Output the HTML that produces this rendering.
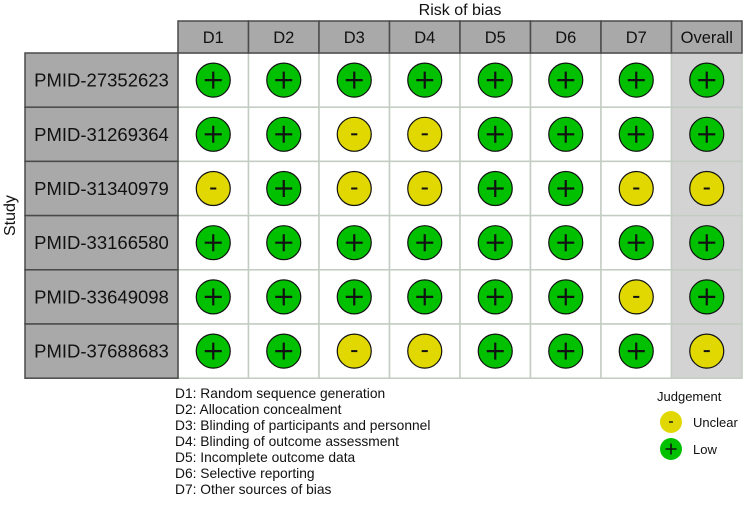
<!DOCTYPE html>
<html><head><meta charset="utf-8"><style>
body{margin:0;background:#fff;font-family:"Liberation Sans",sans-serif}
</style></head><body>
<svg id="c" width="744" height="503" xmlns="http://www.w3.org/2000/svg" font-family="Liberation Sans, sans-serif"></svg>
<script>
const studies=["PMID-27352623","PMID-31269364","PMID-31340979","PMID-33166580","PMID-33649098","PMID-37688683"];
const domains=["D1","D2","D3","D4","D5","D6","D7","Overall"];
const judgements=[
"LLLLLLLL",
"LLUULLLL",
"ULUULLUU",
"LLLLLLLL",
"LLLLLLUL",
"LLUULLLU"];
const legendLines=["D1: Random sequence generation","D2: Allocation concealment","D3: Blinding of participants and personnel","D4: Blinding of outcome assessment","D5: Incomplete outcome data","D6: Selective reporting","D7: Other sources of bias"];
const NS="http://www.w3.org/2000/svg",svg=document.getElementById('c');
function mk(t,a,txt){const e=document.createElementNS(NS,t);for(const k in a)e.setAttribute(k,a[k]);if(txt!==undefined)e.textContent=txt;svg.appendChild(e);return e;}
const x0=178,cw=70.5,y0=53,rh=54.2,hy=21;
const col=i=>x0+i*cw, row=j=>y0+j*rh;
let e;
e=mk('text',{x:col(4),y:15,'text-anchor':'middle','font-size':16,fill:'#111'},'Risk of bias');


e=mk('text',{x:0,y:0,transform:`translate(15,${row(3)}) rotate(-90)`,'text-anchor':'middle','font-size':16,fill:'#111'},'Study');


studies.forEach((s,j)=>{domains.forEach((d,i)=>{
 e=mk('rect',{x:col(i),y:row(j),width:cw,height:rh,fill:i==7?'#d3d3d3':'#fff',stroke:'#c2ccc2','stroke-width':1.5});
 
 
});});
domains.forEach((d,i)=>{
 e=mk('rect',{x:col(i),y:hy,width:cw,height:y0-hy,fill:'#a9a9a9',stroke:'#4a4a4a','stroke-width':1.5});
 
 
 e=mk('text',{x:col(i)+cw/2,y:hy+22,'text-anchor':'middle','font-size':16.5,fill:'#111'},d);
 
 
});
studies.forEach((s,j)=>{
 e=mk('rect',{x:25,y:row(j),width:x0-25,height:rh,fill:'#a9a9a9',stroke:'#4a4a4a','stroke-width':1.5});
 
 
 e=mk('text',{x:(25+x0)/2,y:row(j)+rh/2+6.5,'text-anchor':'middle','font-size':18.5,fill:'#111'},s);
 
 
});
function sym(cx,cy,r,j,name,fs){
 const low=j=='L';
 e=mk('circle',{cx,cy,r,fill:low?'#00c000':'#e0d800',stroke:fs?'#111':'none','stroke-width':1.2});
 
 
 if(low){mk('path',{d:`M${cx-r*0.5} ${cy}H${cx+r*0.5}M${cx} ${cy-r*0.5}V${cy+r*0.5}`,stroke:'#111','stroke-width':fs?2.2:1.6});}
 else{mk('path',{d:`M${cx-r*0.18} ${cy}H${cx+r*0.18}`,stroke:'#111','stroke-width':fs?2:1.4});}
}
studies.forEach((s,j)=>{domains.forEach((d,i)=>{
 sym(col(i)+cw/2,row(j)+rh/2,17,judgements[j][i],'judgement-'+s+'-'+d,true);
});});
legendLines.forEach((t,k)=>{
 e=mk('text',{x:175,y:398+k*16,'font-size':13.8,fill:'#111'},t);
 
 
});
e=mk('text',{x:657,y:401,'font-size':13,fill:'#111'},'Judgement');


[['U','Unclear',422],['L','Low',449]].forEach(([j,l,y])=>{
 sym(671,y,11,j,'legend-symbol-'+l.toLowerCase(),false);
 e=mk('text',{x:693,y:y+5,'font-size':13,fill:'#111'},l);
 
 
});
</script>
</body></html>
